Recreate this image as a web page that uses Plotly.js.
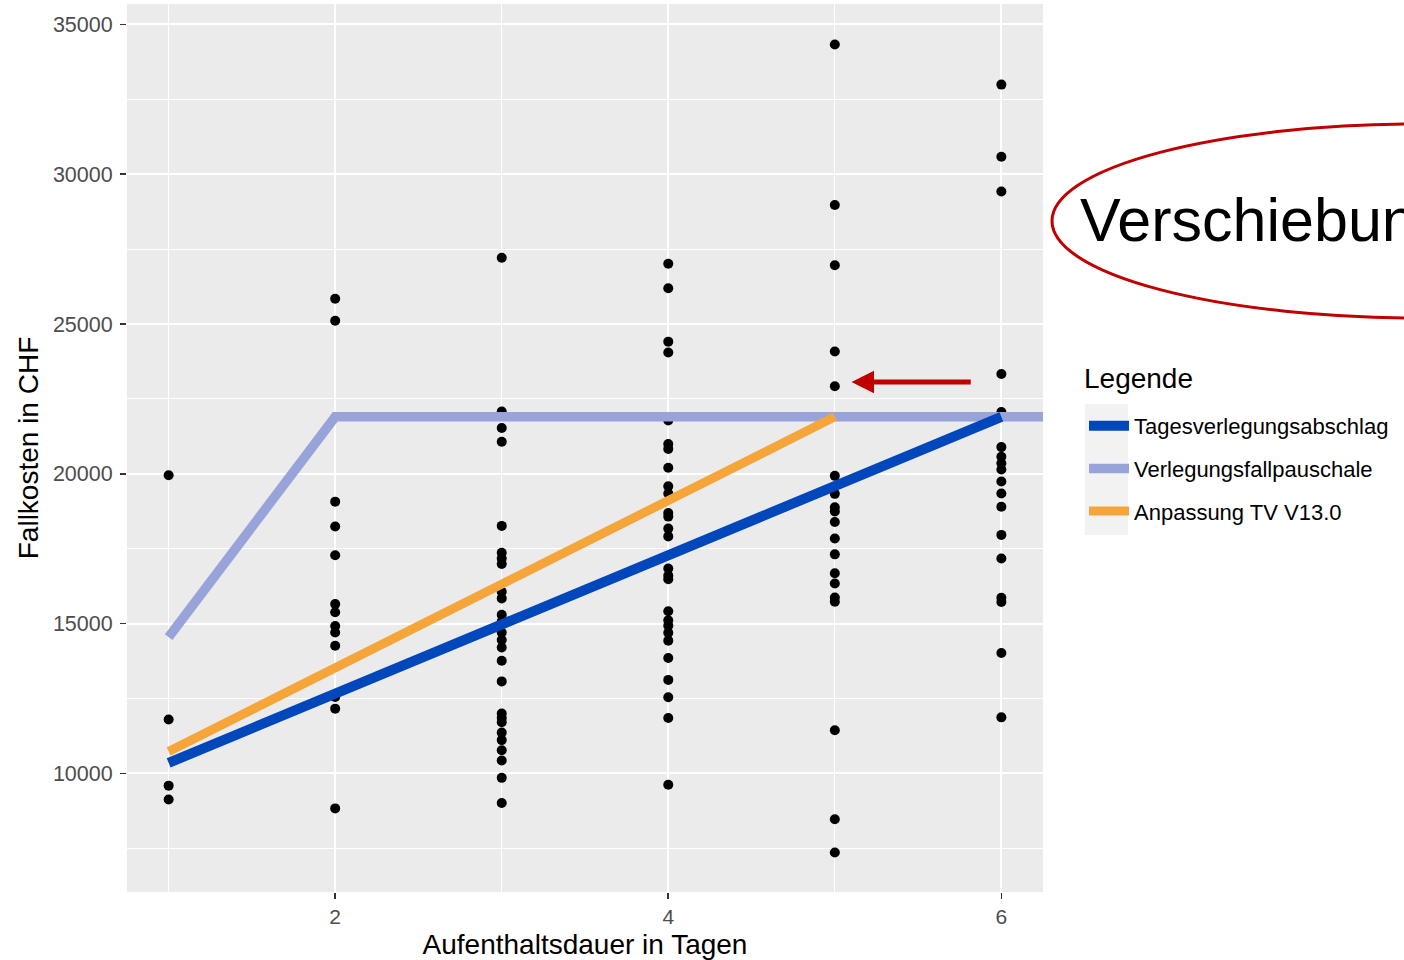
<!DOCTYPE html>
<html>
<head>
<meta charset="utf-8">
<script src="https://cdn.plot.ly/plotly-3.0.1.min.js"></script>
<style>
  html, body { margin: 0; padding: 0; background: #ffffff; }
  #chart { width: 1404px; height: 960px; }
</style>
</head>
<body>
<div id="chart"></div>
<script>
// ---------- data ----------
const days = [1, 2, 3, 4, 5, 6];
const costsDay1 = [19950, 11800, 9590, 9130];
const costsDay2 = [25840, 25110, 19070, 18240, 17280, 15650, 15380, 14920, 14700, 14260, 12550, 12160, 8830];
const costsDay3 = [27210, 22080, 21530, 21070, 18260, 17360, 17170, 16990, 16060, 15840, 15290, 15070, 14700, 14450, 14200, 13760, 13070, 12000, 11850, 11710, 11360, 11110, 10770, 10430, 9850, 9010];
const costsDay4 = [27010, 26190, 24410, 24050, 21780, 20990, 20830, 20200, 19580, 19340, 18690, 18570, 18170, 17910, 16840, 16600, 16480, 15410, 15110, 14930, 14690, 14430, 13850, 13120, 12540, 11850, 9620];
const costsDay5 = [34330, 28970, 26960, 24080, 22920, 19930, 19330, 18880, 18740, 18390, 17840, 17310, 16680, 16340, 15870, 15730, 11440, 8470, 7360];
const costsDay6 = [32990, 30580, 29420, 23330, 22060, 20890, 20570, 20350, 20140, 19740, 19340, 18900, 17960, 17170, 15860, 15720, 14020, 11870];

const tagesDays = [1, 2, 3, 4, 5, 6];
const tagesValues = [10350, 12660, 14970, 17280, 19590, 21900];
const pauschaleDays = [1, 2, 3, 4, 5, 6, 7];
const pauschaleValues = [14550, 21900, 21900, 21900, 21900, 21900, 21900];
const anpassungDays = [1, 2, 3, 4, 5];
const anpassungValues = [10730, 13520, 16300, 19120, 21900];

const seriesNames = ["Tagesverlegungsabschlag", "Verlegungsfallpauschale", "Anpassung TV V13.0"];
const legendTitle = "Legende";
const calloutText = "Verschiebung";
const arrowTip = {x: 5.10, y: 23060};
const arrowTail = {x: 5.825, y: 23060};

// ---------- layout helpers ----------
const PL = 127, PR = 1043, PT = 4, PB = 892;
const px2x = px => (px - PL) / (PR - PL);
const px2y = py => (PB - py) / (PB - PT);
const FONT = "Liberation Sans, Arial, sans-serif";

const allCosts = [costsDay1, costsDay2, costsDay3, costsDay4, costsDay5, costsDay6];
const ptsX = [], ptsY = [];
allCosts.forEach((arr, i) => arr.forEach(v => { ptsX.push(days[i]); ptsY.push(v); }));

const traces = [
  {x: ptsX, y: ptsY, type: "scatter", mode: "markers", showlegend: false,
   marker: {color: "#000000", size: 10}, hoverinfo: "x+y"},
  {x: pauschaleDays, y: pauschaleValues, type: "scatter", mode: "lines", name: seriesNames[1],
   legendrank: 2, legendgroup: "b", line: {color: "#97A3D9", width: 9.5}},
  {x: anpassungDays, y: anpassungValues, type: "scatter", mode: "lines", name: seriesNames[2],
   legendrank: 3, legendgroup: "c", line: {color: "#F6A53A", width: 9}},
  {x: tagesDays, y: tagesValues, type: "scatter", mode: "lines", name: seriesNames[0],
   legendrank: 1, legendgroup: "a", line: {color: "#0047BB", width: 10}}
];

const layout = {
  width: 1404, height: 960,
  paper_bgcolor: "#ffffff", plot_bgcolor: "#EBEBEB",
  margin: {l: PL, r: 1404 - PR, t: PT, b: 960 - PB, pad: 0},
  font: {family: FONT, color: "#000000"},
  showlegend: true,
  xaxis: {
    range: [0.75, 6.25], tick0: 2, dtick: 2, tickmode: "linear",
    showgrid: true, gridcolor: "#ffffff", gridwidth: 2,
    minor: {dtick: 1, tick0: 1, showgrid: true, gridcolor: "#ffffff", gridwidth: 1.1},
    zeroline: false, showline: false,
    ticks: "outside", ticklen: 6, tickcolor: "#333333", tickwidth: 1.6,
    tickfont: {family: FONT, size: 21, color: "#4D4D4D"},
    title: {text: "Aufenthaltsdauer in Tagen", font: {family: FONT, size: 28, color: "#000000"}, standoff: 7},
    automargin: false
  },
  yaxis: {
    range: [6040, 35680], tick0: 10000, dtick: 5000, tickmode: "linear", tickformat: "d",
    showgrid: true, gridcolor: "#ffffff", gridwidth: 2,
    minor: {dtick: 2500, tick0: 7500, showgrid: true, gridcolor: "#ffffff", gridwidth: 1.1},
    zeroline: false, showline: false,
    ticks: "outside", ticklen: 6, tickcolor: "#333333", tickwidth: 1.6,
    tickfont: {family: FONT, size: 21.5, color: "#4D4D4D"},
    ticklabelstandoff: 3,
    title: {text: "Fallkosten in CHF", font: {family: FONT, size: 28, color: "#000000"}, standoff: 6},
    automargin: false
  },
  legend: {
    x: px2x(1084), y: px2y(405), xanchor: "left", yanchor: "top",
    bgcolor: "rgba(0,0,0,0)", borderwidth: 0,
    font: {family: FONT, size: 22, color: "#000000"},
    traceorder: "grouped", tracegroupgap: 11, itemwidth: 40
  },
  shapes: [
    {type: "rect", xref: "paper", yref: "paper", layer: "below",
     x0: px2x(1085), x1: px2x(1128), y0: px2y(535), y1: px2y(404),
     fillcolor: "#F2F2F2", line: {width: 0}},
    {type: "circle", xref: "paper", yref: "paper",
     x0: px2x(1052), x1: px2x(1790), y0: px2y(318), y1: px2y(124),
     line: {color: "#C00000", width: 3}, fillcolor: "rgba(0,0,0,0)"}
  ],
  annotations: [
    {xref: "paper", yref: "paper", x: px2x(1082), y: px2y(378), xanchor: "left", yanchor: "middle",
     text: legendTitle, showarrow: false, font: {family: FONT, size: 28, color: "#000000"}},
    {xref: "paper", yref: "paper", x: px2x(1078), y: px2y(220), xanchor: "left", yanchor: "middle",
     text: calloutText, showarrow: false, font: {family: FONT, size: 61, color: "#000000"}},
    {xref: "x", yref: "y", axref: "x", ayref: "y", x: arrowTip.x, y: arrowTip.y,
     ax: arrowTail.x, ay: arrowTail.y, text: "", showarrow: true,
     arrowhead: 2, arrowsize: 0.9, arrowwidth: 5, arrowcolor: "#C00000", standoff: 0}
  ]
};

Plotly.newPlot("chart", traces, layout, {displayModeBar: false, staticPlot: true});
</script>
</body>
</html>
